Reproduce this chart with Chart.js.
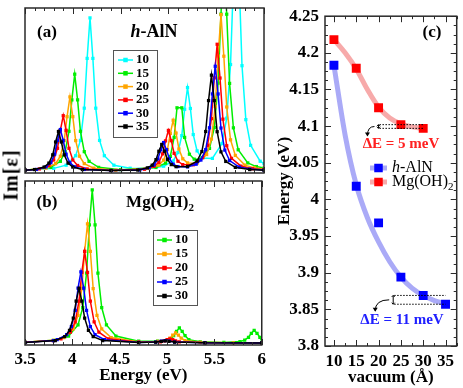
<!DOCTYPE html>
<html>
<head>
<meta charset="utf-8">
<script src="https://cdn.jsdelivr.net/npm/chart.js@4.4.0/dist/chart.umd.min.js"></script>
<style>
	body { margin: 0; background: #fff; width: 463px; height: 388px; position: relative; overflow: hidden; }
	canvas { position: absolute; }
	#ylab {
		position: absolute; left: 11px; top: 175px;
		transform: translate(-50%, -50%) rotate(-90deg);
		font: bold 20px 'Liberation Serif', serif; white-space: nowrap; letter-spacing: 1px;
	}
</style>
</head>
<body>
<canvas id="chartA" width="270" height="177" style="left:0;top:0;width:270px;height:177px"></canvas>
<canvas id="chartB" width="270" height="211" style="left:0;top:177px;width:270px;height:211px"></canvas>
<canvas id="chartC" width="193" height="388" style="left:270px;top:0;width:193px;height:388px"></canvas>
<div id="ylab">Im[ε]</div>
<script>
/************  DATA  ************/

// (a) h-AlN, Im[eps] (arb. units) vs energy (eV), one curve per vacuum size
const labelsA = ['10', '15', '20', '25', '30', '35'];
const colorsA = ['#00ffff', '#00ee00', '#ffa500', '#ff0000', '#0000ff', '#000000'];
const aX10 = [3.5, 3.8, 3.93, 4.03, 4.08, 4.12, 4.15, 4.18, 4.21, 4.24, 4.28, 4.33, 4.43, 4.6, 4.8, 4.95, 5.05, 5.10, 5.14, 5.17, 5.20, 5.23, 5.26, 5.30, 5.35, 5.46, 5.56, 5.61, 5.65, 5.68, 5.71, 5.74, 5.77, 5.81, 5.86, 5.96, 6.0];
const aY10 = [2.8, 4.7, 7.9, 17.5, 33, 65.6, 116, 157, 116, 65.6, 33, 17.5, 7.9, 4.8, 4.6, 6.9, 12.2, 20.7, 37.8, 64.5, 86.5, 65.3, 38.9, 22.4, 15.2, 14.8, 29.8, 55.5, 109.8, 194, 263, 194, 108.6, 54, 28, 11.9, 9.5];
const aX15 = [3.5, 3.77, 3.87, 3.92, 3.96, 3.99, 4.02, 4.05, 4.08, 4.12, 4.17, 4.27, 4.5, 4.87, 4.97, 5.02, 5.06, 5.09, 5.14, 5.17, 5.22, 5.27, 5.33, 5.43, 5.48, 5.52, 5.55, 5.58, 5.61, 5.64, 5.68, 5.73, 5.83, 5.92, 6.0];
const aY15 = [2.9, 5.7, 11.8, 21.6, 42.2, 74, 100, 74, 42.2, 21.6, 11.8, 5.7, 3.4, 5.6, 10, 16.8, 36, 66, 66, 36, 19, 14, 13.8, 24.9, 46, 91, 160.8, 217.7, 160.7, 90.7, 45.7, 23.5, 10.2, 6.5, 5];
const aX20 = [3.5, 3.72, 3.82, 3.87, 3.91, 3.94, 3.97, 4.00, 4.03, 4.07, 4.12, 4.22, 4.45, 4.80, 4.90, 4.95, 4.99, 5.02, 5.05, 5.08, 5.11, 5.15, 5.20, 5.30, 5.40, 5.45, 5.49, 5.52, 5.55, 5.58, 5.61, 5.65, 5.70, 5.80, 5.90, 6.0];
const aY20 = [2.8, 4.9, 9.5, 17, 32.8, 57, 77, 57, 32.8, 17, 9.5, 4.9, 2.8, 4.6, 7.9, 13, 23.7, 40.1, 53.4, 40.4, 24.3, 14.4, 10.2, 9.9, 18.7, 34.3, 67.3, 118.4, 160.3, 118.2, 66.8, 33.6, 17.8, 8, 5.2, 3.9];
const aX25 = [3.5, 3.65, 3.75, 3.80, 3.84, 3.87, 3.90, 3.93, 3.96, 4.00, 4.05, 4.15, 4.4, 4.75, 4.85, 4.90, 4.94, 4.97, 5.00, 5.03, 5.06, 5.10, 5.15, 5.26, 5.36, 5.41, 5.45, 5.48, 5.51, 5.54, 5.57, 5.61, 5.66, 5.76, 5.88, 6.0];
const aY25 = [2.8, 4.1, 7.6, 13.2, 25, 43.2, 58, 43.2, 25, 13.2, 7.6, 4.1, 2.6, 3.8, 6.7, 10.8, 19.4, 32.5, 43.1, 32.7, 19.9, 11.9, 8.5, 8.3, 15.5, 28.1, 55, 96.3, 130.3, 96.1, 54.5, 27.6, 14.8, 6.9, 4.3, 3.3];
const aX30 = [3.5, 3.62, 3.72, 3.77, 3.81, 3.84, 3.87, 3.90, 3.93, 3.97, 4.02, 4.12, 4.4, 4.7, 4.80, 4.85, 4.89, 4.92, 4.95, 4.98, 5.01, 5.05, 5.10, 5.2, 5.29, 5.34, 5.39, 5.43, 5.46, 5.49, 5.52, 5.55, 5.59, 5.64, 5.74, 5.85, 6.0];
const aY30 = [2.8, 3.6, 6.2, 10.4, 19, 33, 44, 33, 19, 10.4, 6.2, 3.6, 2.5, 3.1, 5.3, 8.2, 14.2, 23.4, 30.8, 23.6, 14.5, 9, 6.5, 6.2, 8.9, 13.1, 23.6, 45.8, 80, 108, 80, 45.5, 23.2, 12.6, 6, 4, 3];
const aX35 = [3.5, 3.60, 3.70, 3.75, 3.79, 3.82, 3.85, 3.88, 3.91, 3.95, 4.00, 4.10, 4.4, 4.68, 4.78, 4.83, 4.87, 4.90, 4.93, 4.96, 4.99, 5.03, 5.08, 5.20, 5.30, 5.35, 5.39, 5.42, 5.45, 5.48, 5.51, 5.55, 5.60, 5.70, 5.85, 6.0];
const aY35 = [2.8, 3.5, 6, 10, 18.4, 31.4, 42, 31.4, 18.4, 10, 6, 3.5, 2.5, 3, 5.2, 7.9, 13.5, 22, 28.9, 22, 13.8, 8.5, 6.4, 6.6, 12.1, 21.7, 42, 73.3, 99, 73.3, 41.8, 21.4, 11.7, 5.7, 3.5, 2.8];

// (b) Mg(OH)2
const labelsB = ['10', '15', '20', '25', '30'];
const colorsB = ['#00ee00', '#ffa500', '#ff0000', '#0000ff', '#000000'];
const bX10 = [3.5, 3.8, 3.96, 4.06, 4.11, 4.15, 4.18, 4.21, 4.24, 4.27, 4.31, 4.36, 4.46, 4.7, 4.9, 5.03, 5.07, 5.10, 5.13, 5.16, 5.19, 5.23, 5.35, 5.6, 5.77, 5.82, 5.86, 5.89, 5.92, 5.95, 5.98, 6.0];
const bY10 = [2.9, 4.8, 9.2, 20.5, 38.4, 73.7, 123, 159, 123, 73.7, 38.4, 20.5, 9.2, 3.9, 3.9, 5.5, 9.5, 14, 17.6, 14, 9.5, 5.5, 3.3, 2.6, 3.5, 5, 7.9, 12, 15, 12, 7.9, 6.2];
const bX15 = [3.5, 3.8, 3.91, 4.01, 4.06, 4.10, 4.13, 4.16, 4.19, 4.22, 4.26, 4.31, 4.41, 4.7, 4.9, 4.99, 5.03, 5.06, 5.09, 5.12, 5.15, 5.19, 5.35, 5.7, 6.0];
const bY15 = [2.9, 4.8, 7.6, 16.4, 30.3, 57.8, 96, 124, 96, 57.8, 30.3, 16.4, 7.6, 3.2, 3.6, 4.5, 7, 10, 12.4, 10, 7, 4.6, 2.7, 2.3, 2.2];
const bX20 = [3.5, 3.8, 3.88, 3.98, 4.03, 4.07, 4.10, 4.13, 4.16, 4.19, 4.23, 4.28, 4.38, 4.7, 4.93, 4.97, 5.0, 5.03, 5.06, 5.09, 5.13, 5.4, 6.0];
const bY20 = [2.7, 4.5, 6.3, 13.1, 23.8, 45, 74.4, 96, 74.4, 45, 23.8, 13.1, 6.3, 2.9, 3.3, 4.3, 5.6, 6.4, 5.6, 4.3, 3.3, 2.3, 2.1];
const bX25 = [3.5, 3.8, 3.84, 3.94, 3.99, 4.03, 4.06, 4.09, 4.12, 4.15, 4.19, 4.24, 4.34, 4.7, 4.88, 4.94, 4.98, 5.02, 5.08, 5.4, 6.0];
const bY25 = [2.6, 4.6, 5.4, 10.6, 18.9, 35.4, 58.2, 75, 58.2, 35.4, 18.9, 10.6, 5.4, 2.6, 3, 4, 4.6, 4, 3, 2.2, 2.1];
const bX30 = [3.5, 3.82, 3.92, 3.97, 4.01, 4.04, 4.07, 4.10, 4.13, 4.17, 4.22, 4.32, 4.7, 4.88, 4.94, 4.98, 5.02, 5.08, 5.4, 6.0];
const bY30 = [2.5, 4.6, 8.6, 15, 27.6, 45, 58, 45, 27.6, 15, 8.6, 4.6, 2.5, 3, 3.8, 4.3, 3.8, 3, 2.2, 2.1];

const energyTicks = [3.5, 4, 4.5, 5, 5.5, 6];

// (c) exciton energy vs vacuum size
const vacAlN = [10, 15, 20, 25, 30, 35];
const eAlN = [4.183, 4.018, 3.968, 3.894, 3.869, 3.857];
const vacMg = [10, 15, 20, 25, 30];
const eMg = [4.218, 4.179, 4.125, 4.102, 4.097];
const fitVacAlN = [10, 12.5, 15, 17.5, 20, 22.5, 25, 27.5, 30, 32.5, 35];
const fitAlN = [4.183, 4.088, 4.020, 3.975, 3.942, 3.915, 3.894, 3.879, 3.869, 3.862, 3.858];
const fitVacMg = [10, 12.5, 15, 17.5, 20, 22.5, 25, 27.5, 30];
const fitMg = [4.218, 4.200, 4.178, 4.150, 4.126, 4.111, 4.103, 4.099, 4.097];
const vacTicks = [10, 15, 20, 25, 30, 35];
const energyTicksC = [3.8, 3.85, 3.9, 3.95, 4, 4.05, 4.1, 4.15, 4.2, 4.25];

/************  HELPERS  ************/

const SERIF = '"Liberation Serif", "Times New Roman", serif';
const bold = px => `bold ${px}px ${SERIF}`;
const ital = px => `italic bold ${px}px ${SERIF}`;

function drawRuns(ctx, runs, x, y, color, align) {
	ctx.save();
	ctx.fillStyle = color;
	ctx.textBaseline = 'middle';
	let w = 0;
	runs.forEach(r => { ctx.font = r.font; w += ctx.measureText(r.t).width; });
	let cx = align === 'left' ? x : x - w / 2;
	runs.forEach(r => {
		ctx.font = r.font;
		ctx.fillText(r.t, cx, y + (r.dy || 0));
		cx += ctx.measureText(r.t).width;
	});
	ctx.restore();
}

function curve(label, color, xs, ys, order) {
	return {
		label,
		data: xs.map((x, i) => ({ x, y: ys[i] })),
		borderColor: color,
		backgroundColor: color,
		borderWidth: 1.5,
		pointStyle: 'rect',
		pointRadius: 2.3,
		pointBorderWidth: 0,
		showLine: true,
		order,
	};
}

// box frame + inward tick marks on all four sides
const frame = {
	id: 'frame',
	afterDraw(chart, args, o) {
		const { ctx, chartArea: a } = chart;
		ctx.save();
		ctx.strokeStyle = '#2a2a2a';
		ctx.lineWidth = 1;
		(o.marks || []).forEach(m => {
			const s = chart.scales[m.axis];
			const first = Math.ceil(s.min / m.step - 1e-6);
			const last = Math.floor(s.max / m.step + 1e-6);
			for (let n = first; n <= last; n++) {
				const v = n * m.step;
				const len = Math.abs(v / m.major - Math.round(v / m.major)) < 1e-6 ? m.big : m.small;
				const p = Math.round(s.getPixelForValue(v)) + 0.5;
				ctx.beginPath();
				if (m.axis === 'x') {
					ctx.moveTo(p, a.bottom); ctx.lineTo(p, a.bottom - len);
					ctx.moveTo(p, a.top); ctx.lineTo(p, a.top + len);
				} else {
					ctx.moveTo(a.left, p); ctx.lineTo(a.left + len, p);
					ctx.moveTo(a.right, p); ctx.lineTo(a.right - len, p);
				}
				ctx.stroke();
			}
		});
		ctx.lineWidth = 1.5;
		ctx.strokeRect(a.left, a.top, a.right - a.left, a.bottom - a.top);
		ctx.restore();
	},
};

// free text labels
const labels = {
	id: 'labels',
	afterDraw(chart, args, o) {
		(o.items || []).forEach(it => drawRuns(chart.ctx, it.runs, it.x, it.y, it.color || '#000', it.align));
	},
};

// legend drawn from the datasets: line + square marker + label
const boxLegend = {
	id: 'boxLegend',
	afterDraw(chart, args, o) {
		const ctx = chart.ctx;
		ctx.save();
		if (o.box) {
			ctx.strokeStyle = '#555';
			ctx.lineWidth = 1;
			ctx.strokeRect(o.box[0] + 0.5, o.box[1] + 0.5, o.box[2], o.box[3]);
		}
		chart.data.datasets.filter(d => !d.noLegend).forEach((d, i) => {
			const y = o.y0 + i * o.row;
			ctx.strokeStyle = d.fitColor || d.borderColor;
			ctx.lineWidth = o.lw;
			ctx.beginPath();
			ctx.moveTo(o.lx0, y); ctx.lineTo(o.lx1, y);
			ctx.stroke();
			ctx.fillStyle = d.backgroundColor;
			const mx = (o.lx0 + o.lx1) / 2;
			ctx.fillRect(mx - o.mk / 2, y - o.mk / 2, o.mk, o.mk);
			drawRuns(ctx, d.legendRuns || [{ t: d.label, font: o.font }], o.tx, y, '#000', 'left');
		});
		ctx.restore();
	},
};

// dotted guide lines, small double arrow and curved arrow in panel (c)
const deltaMarks = {
	id: 'deltaMarks',
	afterDraw(chart, args, o) {
		const { ctx, scales: { x, y } } = chart;
		ctx.save();
		(o.items || []).forEach(it => {
			const x0 = x.getPixelForValue(it.from), x1 = x.getPixelForValue(it.to);
			const ya = y.getPixelForValue(it.ya), yb = y.getPixelForValue(it.yb);
			ctx.strokeStyle = '#000';
			ctx.lineWidth = 1;
			ctx.setLineDash([1.5, 1.5]);
			ctx.beginPath();
			ctx.moveTo(x0, ya); ctx.lineTo(x1, ya);
			ctx.moveTo(x0, yb); ctx.lineTo(x1, yb);
			ctx.stroke();
			ctx.setLineDash([]);
			// double arrow
			const ax = x0 - 1;
			ctx.beginPath();
			ctx.moveTo(ax, ya); ctx.lineTo(ax, yb);
			ctx.moveTo(ax - 1.5, ya + 1.5); ctx.lineTo(ax, ya); ctx.lineTo(ax + 1.5, ya + 1.5);
			ctx.moveTo(ax - 1.5, yb - 1.5); ctx.lineTo(ax, yb); ctx.lineTo(ax + 1.5, yb - 1.5);
			ctx.stroke();
			// curved arrow
			const sy = (ya + yb) / 2, sx = ax - 4;
			const ex = sx + it.dx, ey = sy + it.dy;
			ctx.beginPath();
			ctx.moveTo(sx, sy);
			ctx.quadraticCurveTo(ex, sy, ex, ey);
			ctx.stroke();
			ctx.beginPath();
			ctx.moveTo(ex - 2.5, ey - 3); ctx.lineTo(ex, ey + 1); ctx.lineTo(ex + 2.5, ey - 3);
			ctx.closePath();
			ctx.fillStyle = '#000';
			ctx.fill();
		});
		ctx.restore();
	},
};

const energyMarks = [{ axis: 'x', step: 0.1, major: 0.5, small: 3, big: 6 }];

/************  PANEL (a)  ************/

const seriesA = [[aX10, aY10], [aX15, aY15], [aX20, aY20], [aX25, aY25], [aX30, aY30], [aX35, aY35]];

new Chart(document.getElementById('chartA'), {
	type: 'scatter',
	data: {
		datasets: seriesA.map((s, i) => curve(labelsA[i], colorsA[i], s[0], s[1], seriesA.length - i)),
	},
	options: {
		responsive: false,
		animation: false,
		devicePixelRatio: 1,
		layout: { padding: { left: 25, top: 8, right: 6, bottom: 2 } },
		scales: {
			x: { type: 'linear', display: false, min: 3.5, max: 6 },
			y: { display: false, min: 0, max: 167 },
		},
		plugins: {
			legend: { display: false },
			tooltip: { enabled: false },
			frame: { marks: energyMarks },
			labels: {
				items: [
					{ x: 47, y: 33, runs: [{ t: '(a)', font: bold(17) }] },
					{ x: 154, y: 32, runs: [{ t: 'h', font: ital(18) }, { t: '-AlN', font: bold(18) }] },
				],
			},
			boxLegend: {
				box: [113, 50, 44, 87],
				y0: 60, row: 13.3, lx0: 118, lx1: 133, tx: 136, lw: 1.5, mk: 4.5, font: bold(13),
			},
		},
	},
	plugins: [frame, labels, boxLegend],
});

/************  PANEL (b)  ************/

const seriesB = [[bX10, bY10], [bX15, bY15], [bX20, bY20], [bX25, bY25], [bX30, bY30]];

new Chart(document.getElementById('chartB'), {
	type: 'scatter',
	data: {
		datasets: seriesB.map((s, i) => curve(labelsB[i], colorsB[i], s[0], s[1], seriesB.length - i)),
	},
	options: {
		responsive: false,
		animation: false,
		devicePixelRatio: 1,
		layout: { padding: { left: 25, top: 1, right: 6, bottom: 0 } },
		scales: {
			x: {
				type: 'linear',
				min: 3.5,
				max: 6,
				grid: { display: false, drawTicks: false },
				border: { display: false },
				afterBuildTicks: s => { s.ticks = energyTicks.map(v => ({ value: v })); },
				afterFit: s => { s.height = 43; },
				ticks: { color: '#000', font: { family: SERIF, size: 17, weight: 'bold' }, padding: 4, maxRotation: 0, callback: v => String(v) },
				title: { display: true, text: 'Energy (eV)', color: '#000', font: { family: SERIF, size: 17, weight: 'bold' }, padding: { top: 0, bottom: 2 } },
			},
			y: { display: false, min: 0, max: 168 },
		},
		plugins: {
			legend: { display: false },
			tooltip: { enabled: false },
			frame: { marks: energyMarks },
			labels: {
				items: [
					{ x: 47, y: 26, runs: [{ t: '(b)', font: bold(17) }] },
					{ x: 160, y: 26, runs: [{ t: 'Mg(OH)', font: bold(17) }, { t: '2', font: bold(11), dy: 5 }] },
				],
			},
			boxLegend: {
				box: [153, 53, 44, 75],
				y0: 63, row: 14, lx0: 157, lx1: 172, tx: 175, lw: 1.5, mk: 4.5, font: bold(13),
			},
		},
	},
	plugins: [frame, labels, boxLegend],
});

/************  PANEL (c)  ************/

const paleBlue = 'rgba(100, 100, 240, 0.55)';
const paleRed = 'rgba(240, 100, 100, 0.55)';

new Chart(document.getElementById('chartC'), {
	type: 'scatter',
	data: {
		datasets: [
			{
				label: 'h-AlN',
				legendRuns: [{ t: 'h', font: `italic 16px ${SERIF}` }, { t: '-AlN', font: `16px ${SERIF}` }],
				data: vacAlN.map((x, i) => ({ x, y: eAlN[i] })),
				backgroundColor: '#0000ff', borderColor: '#0000ff', fitColor: paleBlue,
				pointStyle: 'rect', pointRadius: 6.3, pointBorderWidth: 0, order: 0,
			},
			{
				label: 'Mg(OH)2',
				legendRuns: [{ t: 'Mg(OH)', font: `16px ${SERIF}` }, { t: '2', font: `11px ${SERIF}`, dy: 5 }],
				data: vacMg.map((x, i) => ({ x, y: eMg[i] })),
				backgroundColor: '#ff0000', borderColor: '#ff0000', fitColor: paleRed,
				pointStyle: 'rect', pointRadius: 6.3, pointBorderWidth: 0, order: 0,
			},
			{
				label: 'fit h-AlN', noLegend: true,
				data: fitVacAlN.map((x, i) => ({ x, y: fitAlN[i] })),
				showLine: true, borderColor: paleBlue, borderWidth: 5, pointRadius: 0,
				cubicInterpolationMode: 'monotone', order: 1,
			},
			{
				label: 'fit Mg(OH)2', noLegend: true,
				data: fitVacMg.map((x, i) => ({ x, y: fitMg[i] })),
				showLine: true, borderColor: paleRed, borderWidth: 5, pointRadius: 0,
				cubicInterpolationMode: 'monotone', order: 1,
			},
		],
	},
	options: {
		responsive: false,
		animation: false,
		devicePixelRatio: 1,
		layout: { padding: { left: 0, top: 8, right: 1, bottom: 0 } },
		scales: {
			x: {
				type: 'linear',
				min: 8,
				max: 37.5,
				grid: { display: false, drawTicks: false },
				border: { display: false },
				afterBuildTicks: s => { s.ticks = vacTicks.map(v => ({ value: v })); },
				afterFit: s => { s.height = 42; },
				ticks: { color: '#000', font: { family: SERIF, size: 17, weight: 'bold' }, padding: 5, maxRotation: 0, callback: v => String(v) },
				title: { display: true, text: 'vacuum (Å)', color: '#000', font: { family: SERIF, size: 17, weight: 'bold' }, padding: { top: 0, bottom: 0 } },
			},
			y: {
				min: 3.8,
				max: 4.25,
				grid: { display: false, drawTicks: false },
				border: { display: false },
				afterBuildTicks: s => { s.ticks = energyTicksC.map(v => ({ value: v })); },
				afterFit: s => { s.width = 55; },
				ticks: { color: '#000', font: { family: SERIF, size: 17, weight: 'bold' }, padding: 6, callback: v => String(v) },
				title: { display: true, text: 'Energy (eV)', color: '#000', font: { family: SERIF, size: 17, weight: 'bold' }, padding: { top: 4, bottom: 0 } },
			},
		},
		plugins: {
			legend: { display: false },
			tooltip: { enabled: false },
			frame: {
				marks: [
					{ axis: 'x', step: 2.5, major: 5, small: 3, big: 6 },
					{ axis: 'y', step: 0.0125, major: 0.05, small: 3, big: 6 },
				],
			},
			labels: {
				items: [
					{ x: 162, y: 33, runs: [{ t: '(c)', font: bold(17) }] },
					{ x: 131, y: 144, color: '#ff2020', runs: [{ t: 'ΔE = 5 meV', font: bold(15) }] },
					{ x: 132, y: 320, color: '#2020ff', runs: [{ t: 'ΔE = 11 meV', font: bold(15) }] },
				],
			},
			boxLegend: {
				y0: 168, row: 14, lx0: 100, lx1: 117, tx: 122, lw: 5, mk: 8.5, font: `16px ${SERIF}`,
			},
			deltaMarks: {
				items: [
					{ from: 20.2, to: 30, ya: eMg[3], yb: eMg[4], dx: -7, dy: 9 },
					{ from: 23.5, to: 35, ya: eAlN[4], yb: eAlN[5], dx: -14, dy: 11 },
				],
			},
		},
	},
	plugins: [frame, labels, boxLegend, deltaMarks],
});
</script>
</body>
</html>
